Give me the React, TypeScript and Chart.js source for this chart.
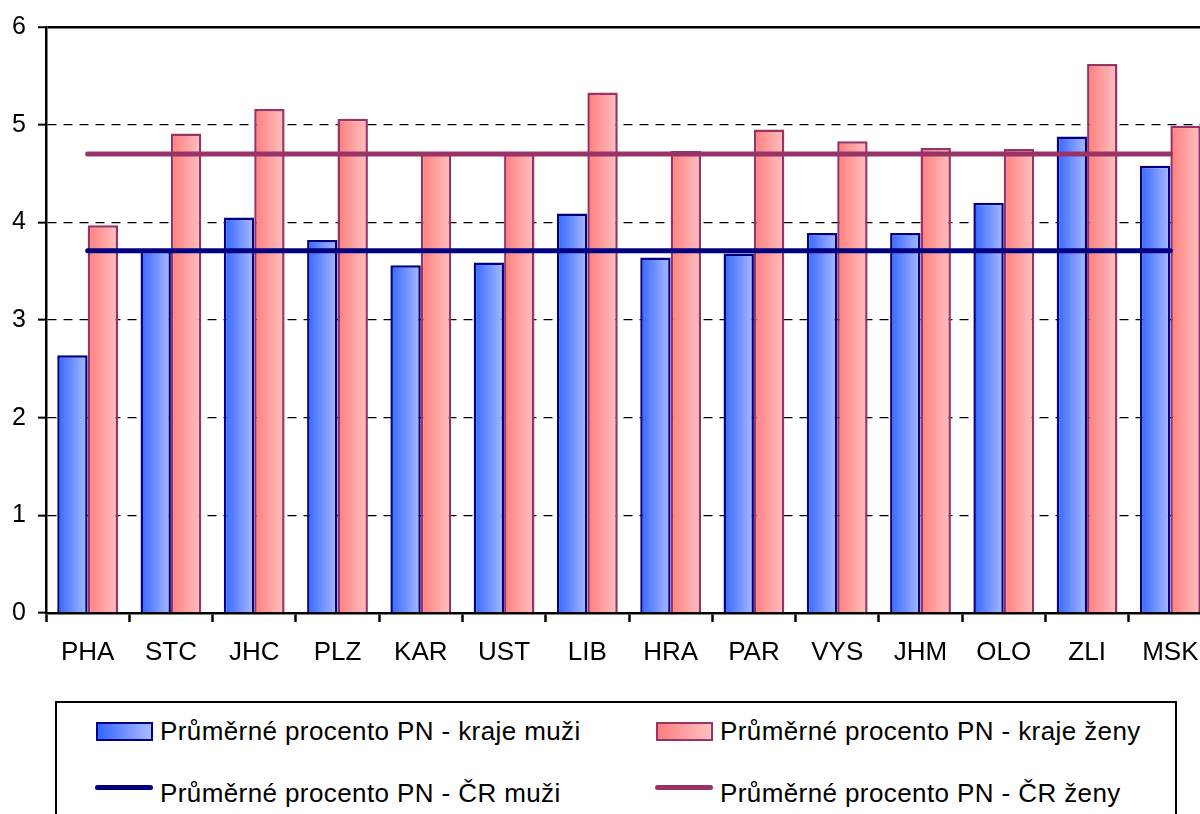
import React, { useEffect, useRef } from 'react';
import Chart from 'chart.js/auto';

const CATEGORIES = ['PHA', 'STC', 'JHC', 'PLZ', 'KAR', 'UST', 'LIB', 'HRA', 'PAR', 'VYS', 'JHM', 'OLO', 'ZLI', 'MSK'];
const KRAJE_MUZI = [2.64, 3.71, 4.05, 3.82, 3.56, 3.59, 4.09, 3.64, 3.68, 3.89, 3.89, 4.2, 4.88, 4.58];
const KRAJE_ZENY = [3.97, 4.91, 5.16, 5.06, 4.71, 4.7, 5.33, 4.73, 4.95, 4.83, 4.76, 4.75, 5.62, 4.99];
const CR_MUZI = 3.71;
const CR_ZENY = 4.7;
const Y_MIN = 0;
const Y_MAX = 6;
const Y_STEP = 1;

const LABEL_KRAJE_MUZI = 'Průměrné procento PN - kraje muži';
const LABEL_KRAJE_ZENY = 'Průměrné procento PN - kraje ženy';
const LABEL_CR_MUZI = 'Průměrné procento PN - ČR muži';
const LABEL_CR_ZENY = 'Průměrné procento PN - ČR ženy';

const CAT_PCT = 0.73;
const FONT = '"Liberation Sans", Arial, sans-serif';

function gradientFill(c0: string, c1: string, side: number) {
  return (context: any) => {
    const chart = context.chart;
    const xs = chart.scales && chart.scales.x;
    if (!xs || context.dataIndex === undefined || !xs.width) return c0;
    const center = xs.getPixelForValue(context.dataIndex);
    const w = (xs.width / CATEGORIES.length) * CAT_PCT / 2;
    const x0 = side < 0 ? center - w : center;
    const g = chart.ctx.createLinearGradient(x0, 0, x0 + w, 0);
    g.addColorStop(0, c0);
    g.addColorStop(1, c1);
    return g;
  };
}

export default function App() {
  const ref = useRef<HTMLCanvasElement | null>(null);

  useEffect(() => {
    if (!ref.current) return;
    const chart = new Chart(ref.current, {
      type: 'bar',
      data: {
        labels: CATEGORIES,
        datasets: [
          {
            type: 'line',
            label: LABEL_CR_MUZI,
            data: CATEGORIES.map(() => CR_MUZI),
            borderColor: '#000080',
            borderWidth: 5,
            pointRadius: 0,
            borderCapStyle: 'round',
            fill: false,
            order: 1,
          } as any,
          {
            type: 'line',
            label: LABEL_CR_ZENY,
            data: CATEGORIES.map(() => CR_ZENY),
            borderColor: '#993366',
            borderWidth: 5,
            pointRadius: 0,
            borderCapStyle: 'round',
            fill: false,
            order: 1,
          } as any,
          {
            type: 'bar',
            label: LABEL_KRAJE_MUZI,
            data: KRAJE_MUZI,
            backgroundColor: gradientFill('#3366ff', '#aabbff', -1),
            borderColor: '#000080',
            borderWidth: 2.5,
            categoryPercentage: CAT_PCT,
            barPercentage: 1,
            order: 2,
          } as any,
          {
            type: 'bar',
            label: LABEL_KRAJE_ZENY,
            data: KRAJE_ZENY,
            backgroundColor: gradientFill('#ff7d7d', '#ffc2c2', 1),
            borderColor: '#993366',
            borderWidth: 2.5,
            categoryPercentage: CAT_PCT,
            barPercentage: 1,
            order: 2,
          } as any,
        ],
      },
      options: {
        animation: false,
        responsive: false,
        devicePixelRatio: 1,
        events: [],
        layout: { padding: { top: 25, right: 48, bottom: 0, left: 0 } },
        plugins: { legend: { display: false }, tooltip: { enabled: false }, title: { display: false } },
        scales: {
          x: {
            grid: {
              offset: true,
              drawOnChartArea: false,
              drawTicks: true,
              tickLength: 9,
              tickColor: '#000',
              tickWidth: 2.5,
            },
            border: { display: true, color: '#000', width: 2.5 },
            ticks: {
              color: '#000',
              font: { family: FONT, size: 26 },
              padding: 15,
              maxRotation: 0,
              autoSkip: false,
            },
            afterFit: (s: any) => {
              s.height = 67;
            },
          },
          y: {
            min: Y_MIN,
            max: Y_MAX,
            grid: {
              color: (c: any) => (c.tick && c.tick.value === 0 ? 'rgba(0,0,0,0)' : '#000'),
              lineWidth: (c: any) => (c.tick && c.tick.value === Y_MAX ? 2.5 : 1.3),
              drawTicks: true,
              tickLength: 8,
              tickColor: '#000',
              tickWidth: 2,
            },
            border: {
              display: true,
              color: '#000',
              width: 2.5,
              dash: (c: any) => (c.tick && c.tick.value !== Y_MAX ? [9, 7] : []),
            },
            ticks: {
              stepSize: Y_STEP,
              color: '#000',
              font: { family: FONT, size: 25 },
              padding: 12,
            },
            afterFit: (s: any) => {
              s.width = 46;
            },
          },
        },
      } as any,
    });
    return () => chart.destroy();
  }, []);

  const textStyle = (left: number, top: number): React.CSSProperties => ({
    position: 'absolute',
    left,
    top,
    font: `26px ${FONT}`,
    lineHeight: '30px',
    letterSpacing: '0.4px',
    whiteSpace: 'nowrap',
    color: '#000',
  });

  return (
    <div
      style={{
        position: 'fixed',
        left: 0,
        top: 0,
        width: 1200,
        height: 814,
        overflow: 'hidden',
        background: '#fff',
      }}
    >
      <canvas ref={ref} width={1260} height={680} style={{ position: 'absolute', left: 0, top: 0 }} />
      <div
        style={{
          position: 'absolute',
          left: 55,
          top: 701,
          width: 1122,
          height: 200,
          border: '2px solid #000',
          boxSizing: 'border-box',
        }}
      />
      <div
        style={{
          position: 'absolute',
          left: 96,
          top: 722,
          width: 57,
          height: 19,
          boxSizing: 'border-box',
          border: '2px solid #000080',
          background: 'linear-gradient(to right, #3366ff, #aabbff)',
        }}
      />
      <div style={textStyle(160, 716)}>{LABEL_KRAJE_MUZI}</div>
      <div
        style={{
          position: 'absolute',
          left: 656,
          top: 722,
          width: 57,
          height: 19,
          boxSizing: 'border-box',
          border: '2px solid #993366',
          background: 'linear-gradient(to right, #ff7d7d, #ffc2c2)',
        }}
      />
      <div style={textStyle(720, 716)}>{LABEL_KRAJE_ZENY}</div>
      <div
        style={{
          position: 'absolute',
          left: 95,
          top: 785,
          width: 58,
          height: 5,
          borderRadius: 2.5,
          background: '#000080',
        }}
      />
      <div style={textStyle(160, 778)}>{LABEL_CR_MUZI}</div>
      <div
        style={{
          position: 'absolute',
          left: 655,
          top: 785,
          width: 58,
          height: 5,
          borderRadius: 2.5,
          background: '#993366',
        }}
      />
      <div style={textStyle(720, 778)}>{LABEL_CR_ZENY}</div>
    </div>
  );
}
